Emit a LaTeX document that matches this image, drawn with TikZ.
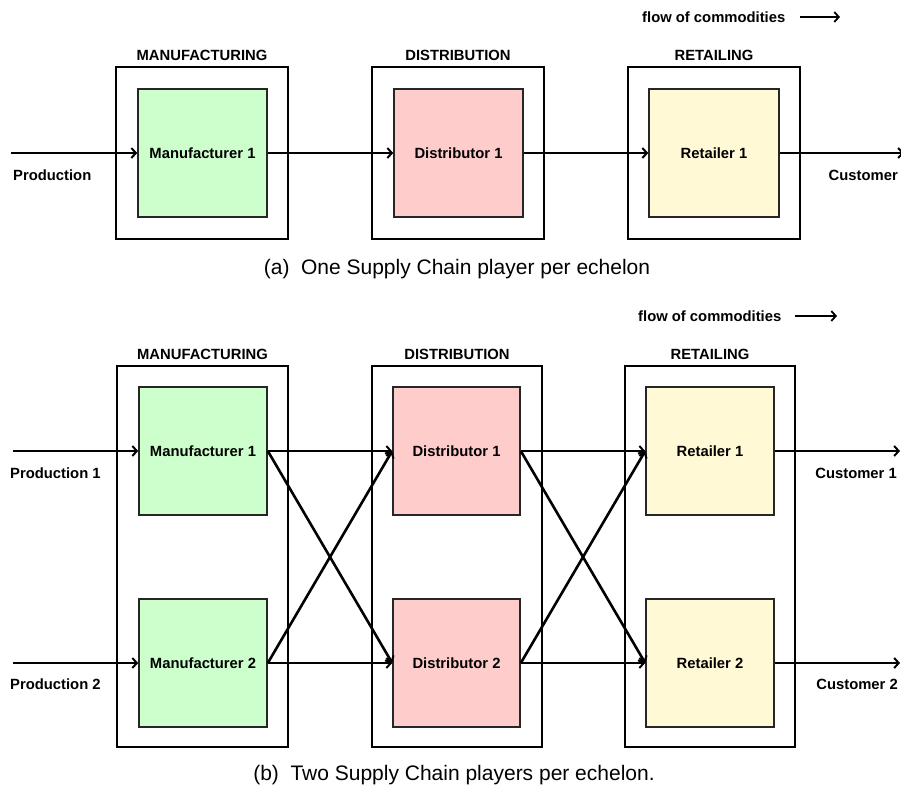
\documentclass[tikz,border=0pt]{standalone}
\usepackage{fontspec}
\setmainfont{Liberation Sans}
\usetikzlibrary{arrows.meta}
\definecolor{mgreen}{HTML}{CCFFCC}
\definecolor{dpink}{HTML}{FFCCCC}
\definecolor{ryellow}{HTML}{FFF9D5}
\tikzset{
  outerbox/.style={draw=black, line width=2pt, inner sep=0pt},
  player/.style={draw=black!85, line width=1.6pt, inner sep=0pt, align=center,
    font=\fontsize{14.8}{17}\selectfont\bfseries},
  lbl/.style={inner sep=0pt, font=\fontsize{14.8}{17}\selectfont\bfseries},
  captext/.style={inner sep=0pt, anchor=base, font=\fontsize{21}{25}\selectfont},
  flow/.style={line width=2.6pt, -{Straight Barb[length=4.5pt,width=10pt,line width=2pt]}},
  legendarrow/.style={line width=2pt, -{Straight Barb[length=4.5pt,width=10pt,line width=1.8pt]}},
}
\begin{document}
\begin{tikzpicture}[x=1pt,y=-1pt]
\useasboundingbox (0,0) rectangle (901,787);
% ---------------- (a) ----------------
\node[outerbox, minimum width=172pt, minimum height=172pt] (aM) at (202,153) {};
\node[outerbox, minimum width=172pt, minimum height=172pt] (aD) at (458,153) {};
\node[outerbox, minimum width=172pt, minimum height=172pt] (aR) at (714,153) {};
\node[lbl, anchor=base] (aMl) at (202,60) {MANUFACTURING};
\node[lbl, anchor=base] (aDl) at (458,60) {DISTRIBUTION};
\node[lbl, anchor=base] (aRl) at (714,60) {RETAILING};
\node[player, fill=mgreen, minimum width=129pt, minimum height=128pt] (am1) at (202.5,153) {Manufacturer 1};
\node[player, fill=dpink, minimum width=129pt, minimum height=128pt] (ad1) at (458.5,153) {Distributor 1};
\node[player, fill=ryellow, minimum width=130pt, minimum height=128pt] (ar1) at (714,153) {Retailer 1};
\coordinate (aP) at (11,153);
\coordinate (aC) at (904,153);
\draw[flow] (aP) -- (am1.west);
\draw[flow] (am1.east) -- (ad1.west);
\draw[flow] (ad1.east) -- (ar1.west);
\draw[flow] (ar1.east) -- (aC);
\node[lbl, anchor=base west] (aPl) at (13,180) {Production};
\node[lbl, anchor=base east] (aCl) at (898,180) {Customer};
\node[lbl, anchor=base west] (aFl) at (642,22) {flow of commodities};
\coordinate (aF1) at (800,17);
\coordinate (aF2) at (840,17);
\draw[legendarrow] (aF1) -- (aF2);
\node[captext] (capa) at (457,274) {(a)\hspace{0.55em}One Supply Chain player per echelon};
% ---------------- (b) ----------------
\node[outerbox, minimum width=171pt, minimum height=381pt] (bM) at (202.5,556.5) {};
\node[outerbox, minimum width=170pt, minimum height=381pt] (bD) at (457,556.5) {};
\node[outerbox, minimum width=170pt, minimum height=381pt] (bR) at (710,556.5) {};
\node[lbl, anchor=base] (bMl) at (202.5,359) {MANUFACTURING};
\node[lbl, anchor=base] (bDl) at (457,359) {DISTRIBUTION};
\node[lbl, anchor=base] (bRl) at (710,359) {RETAILING};
\node[player, fill=mgreen, minimum width=128pt, minimum height=128pt] (bm1) at (203,451) {Manufacturer 1};
\node[player, fill=mgreen, minimum width=128pt, minimum height=128pt] (bm2) at (203,663) {Manufacturer 2};
\node[player, fill=dpink, minimum width=127pt, minimum height=128pt] (bd1) at (456.5,451) {Distributor 1};
\node[player, fill=dpink, minimum width=127pt, minimum height=128pt] (bd2) at (456.5,663) {Distributor 2};
\node[player, fill=ryellow, minimum width=128pt, minimum height=128pt] (br1) at (710,451) {Retailer 1};
\node[player, fill=ryellow, minimum width=128pt, minimum height=128pt] (br2) at (710,663) {Retailer 2};
\coordinate (bP1) at (13,451);
\coordinate (bP2) at (13,663);
\coordinate (bC1) at (900,451);
\coordinate (bC2) at (900,663);
\draw[flow] (bP1) -- (bm1.west);
\draw[flow] (bP2) -- (bm2.west);
\draw[flow] (bm1.east) -- (bd1.west);
\draw[flow] (bm1.east) -- (bd2.west);
\draw[flow] (bm2.east) -- (bd1.west);
\draw[flow] (bm2.east) -- (bd2.west);
\draw[flow] (bd1.east) -- (br1.west);
\draw[flow] (bd1.east) -- (br2.west);
\draw[flow] (bd2.east) -- (br1.west);
\draw[flow] (bd2.east) -- (br2.west);
\draw[flow] (br1.east) -- (bC1);
\draw[flow] (br2.east) -- (bC2);
\node[lbl, anchor=base west] (bP1l) at (10,478) {Production 1};
\node[lbl, anchor=base west] (bP2l) at (10,689) {Production 2};
\node[lbl, anchor=base east] (bC1l) at (897,478) {Customer 1};
\node[lbl, anchor=base east] (bC2l) at (898,689) {Customer 2};
\node[lbl, anchor=base west] (bFl) at (638,321) {flow of commodities};
\coordinate (bF1) at (795,316);
\coordinate (bF2) at (837,316);
\draw[legendarrow] (bF1) -- (bF2);
\node[captext] (capb) at (454,780) {(b)\hspace{0.55em}Two Supply Chain players per echelon.};
\end{tikzpicture}
\end{document}
